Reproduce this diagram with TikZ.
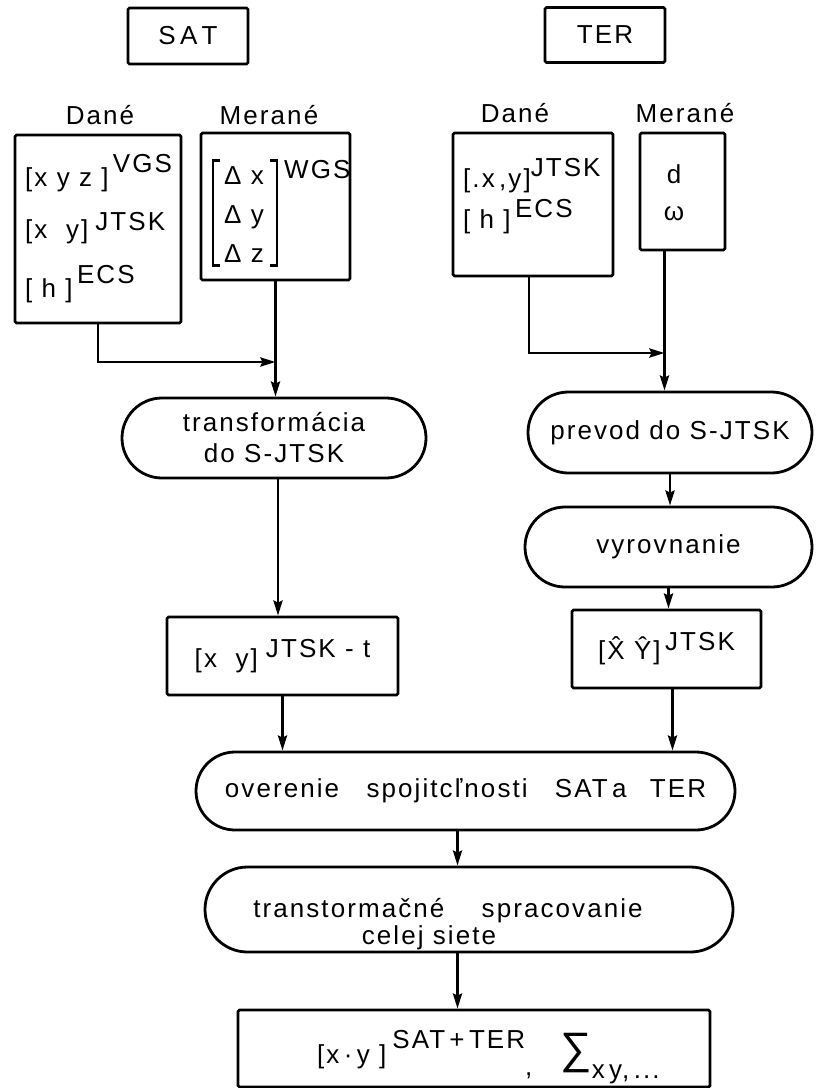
\documentclass[tikz,border=0pt]{standalone}
\usepackage{fontspec}
\setmainfont{Liberation Sans}[LetterSpace=8]
\usetikzlibrary{arrows.meta,shapes.misc}
\begin{document}
\begin{tikzpicture}[x=1pt,y=-1pt,
  box/.style={draw, rectangle, inner sep=0pt, line width=2.8pt, rounded corners=1.5pt},
  stad/.style={draw, rounded rectangle, inner sep=0pt, line width=2.8pt},
  txt/.style={font=\fontsize{26}{31}\selectfont, inner sep=0pt},
  arr/.style={-{Stealth[length=15pt,width=9pt,inset=2pt]}, line width=2.8pt},
  brk/.style={line width=2.4pt}
]
\useasboundingbox (0,0) rectangle (815,1088);

% headers
\node[box, txt, minimum width=120, minimum height=56] (sat) at (188,36) {S\,A\,T};
\node[box, txt, minimum width=120, minimum height=55] (ter) at (605,35) {TER};

\node[txt, anchor=base] (lsd) at (100,124) {Dané};
\node[txt, anchor=base] (lsm) at (269,124) {Merané};
\node[txt, anchor=base] (ltd) at (515,122) {Dané};
\node[txt, anchor=base] (ltm) at (685,122) {Merané};

% input boxes
\node[box, minimum width=166, minimum height=188] (sdane) at (98,229) {};
\node[box, minimum width=149, minimum height=147] (smer) at (275.5,206.5) {};
\node[box, minimum width=160, minimum height=143] (tdane) at (533,204.5) {};
\node[box, minimum width=85, minimum height=117] (tmer) at (682.5,191.5) {};

% SAT dane content
\node[txt, anchor=base west] (s1) at (25,186) {[x y z ]\,\raisebox{14pt}{VGS}};
\node[txt, anchor=base west] (s2) at (25,238) {[x\ \ y]\hspace{7pt}\raisebox{8pt}{JTSK}};
\node[txt, anchor=base west] (s3) at (25,297) {[ h ]\,\raisebox{14pt}{ECS}};

% SAT merane content
\node[txt, anchor=west, align=left, font=\fontsize{26}{39}\selectfont] (mtx) at (224,214.5) {Δ x\\Δ y\\Δ z};
\draw[brk] ([shift={(-4,-6)}]mtx.north west) -- ++(-7,0) |- ([shift={(-4,3)}]mtx.south west);
\draw[brk] ([shift={(6,-6)}]mtx.north east) -- ++(7,0) |- ([shift={(6,3)}]mtx.south east);
\node[txt, anchor=base west] (wgs) at (284,178) {WGS};

% TER dane content
\node[txt, anchor=base west] (t1) at (463,187) {[.x\,,y]\raisebox{11pt}{JTSK}};
\node[txt, anchor=base west] (t2) at (463,228) {[ h ]\,\raisebox{11pt}{ECS}};

% TER merane content
\node[txt, anchor=base] (td) at (674,183) {d};
\node[txt, anchor=base] (tw) at (674,220) {ω};

% process
\node[stad, txt, align=center, minimum width=304, minimum height=80] (trans) at (274,438) {transformácia\\do S-JTSK};
\node[stad, txt, minimum width=284, minimum height=81] (prev) at (670,432.5) {prevod do S-JTSK};
\node[stad, txt, minimum width=287, minimum height=80] (vyr) at (668.5,547) {vyrovnanie};

\node[box, txt, minimum width=231, minimum height=78] (xyb) at (282.5,656) {[x\ \ y]\hspace{8pt}\raisebox{10pt}{JTSK - t}};
\node[box, txt, minimum width=189, minimum height=78] (XYb) at (666.5,649) {[\^X \^Y]\,\raisebox{9pt}{JTSK}};

\node[stad, txt, minimum width=539, minimum height=78] (over) at (465.5,791) {overenie\hspace{18pt} spojitcľnosti\hspace{18pt} SAT\,a\hspace{14pt} TER};

\node[stad, minimum width=528, minimum height=85] (transt) at (469,909.5) {};
\node[txt, anchor=base] (tt1) at (448,917) {transtormačné\hspace{28pt} spracovanie};
\node[txt, anchor=base] (tt2) at (429,944) {celej siete};

\node[box, minimum width=472, minimum height=77] (fin) at (474,1048.5) {};
\node[txt, anchor=base west] (ft) at (317,1063) {[x\,·\,y\ ]\hspace{6pt}\raisebox{15pt}{SAT\,+\,TER}\raisebox{-12pt}{,}\hspace{28pt}{\fontsize{44}{46}\selectfont ∑}\raisebox{-15pt}{x\,y,\,...}};

% connectors
\coordinate (j1) at (smer.south |- 0,362);
\draw[arr] (sdane.south) |- (j1);
\draw[arr] (smer.south) -- (smer.south |- trans.north);

\coordinate (tmb) at ([xshift=-18pt]tmer.south);
\coordinate (j2) at (tmb |- 0,353);
\draw[arr] ([xshift=-4pt]tdane.south) |- (j2);
\draw[arr] (tmb) -- (tmb |- prev.north);

\draw[arr] (prev.south) -- (prev.south |- vyr.north);
\draw[arr] (vyr.south) -- (vyr.south |- XYb.north);
\draw[arr] ([xshift=4pt]trans.south) -- ([xshift=4pt]trans.south |- xyb.north);
\draw[arr] (xyb.south) -- (xyb.south |- over.north);
\draw[arr] ([xshift=6pt]XYb.south) -- ([xshift=6pt]XYb.south |- over.north);
\draw[arr] ([xshift=-8pt]over.south) -- ([xshift=-8pt]over.south |- transt.north);
\coordinate (tsb) at (over.south |- transt.south);
\draw[arr] ([xshift=-8pt]tsb) -- ([xshift=-8pt]tsb |- fin.north);
\end{tikzpicture}
\end{document}
